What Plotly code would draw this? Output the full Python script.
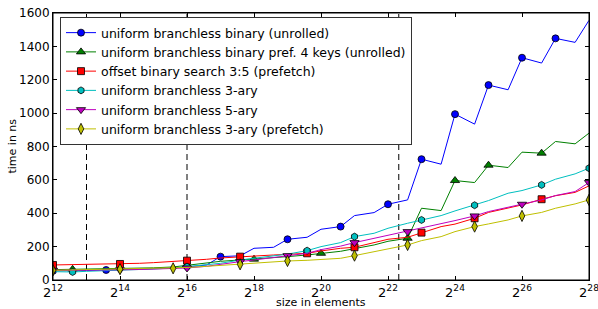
import math
import plotly.graph_objects as go

sizes = [4096, 6144, 8192, 12288, 16384, 24576, 32768, 49152, 65536, 98304,
         131072, 196608, 262144, 393216, 524288, 786432, 1048576, 1572864,
         2097152, 3145728, 4194304, 6291456, 8388608, 12582912, 16777216,
         25165824, 33554432, 50331648, 67108864, 100663296, 134217728,
         201326592, 268435456]

binary_unrolled = [55, 55, 57, 60, 62, 65, 68, 72, 78, 90, 140, 145, 190, 196, 244, 256,
                   304, 320, 386, 404, 454, 480, 724, 694, 994, 934, 1168, 1140, 1332,
                   1300, 1448, 1424, 1556]
binary_pref4 = [62, 64, 65, 66, 68, 70, 73, 78, 88, 100, 112, 120, 125, 133, 140, 150,
                160, 172, 188, 210, 232, 250, 430, 416, 596, 584, 688, 674, 766, 760,
                830, 816, 880]
offset_binary = [90, 92, 93, 95, 96, 100, 104, 110, 116, 124, 132, 140, 145, 150, 154, 160,
                 174, 190, 196, 224, 244, 256, 284, 320, 335, 370, 405, 430, 450, 484,
                 505, 525, 564]
ternary = [50, 48, 52, 55, 58, 62, 66, 72, 80, 88, 100, 120, 130, 145, 155, 176,
           200, 224, 260, 280, 310, 340, 360, 386, 414, 448, 476, 520, 536, 570,
           604, 636, 670]
quinary = [58, 58, 59, 60, 61, 63, 66, 68, 72, 82, 95, 110, 120, 135, 146, 160,
           182, 203, 224, 250, 266, 290, 310, 336, 356, 384, 410, 436, 454, 480,
           506, 530, 584]
ternary_pref = [58, 60, 62, 63, 65, 66, 68, 70, 75, 82, 88, 94, 100, 110, 114, 118,
                122, 130, 146, 170, 184, 210, 236, 260, 290, 320, 336, 360, 384, 405,
                430, 456, 480]

cache_limits = [8192, 65536, 5242880]

x_tick_exps = [12, 14, 16, 18, 20, 22, 24, 26, 28]
y_ticks = [0, 200, 400, 600, 800, 1000, 1200, 1400, 1600]

series = [
    ("uniform branchless binary (unrolled)", binary_unrolled, "#0000ff", "circle", 7,
     [0, 3, 10, 14, 17, 20, 22, 24, 26, 28, 30]),
    ("uniform branchless binary pref. 4 keys (unrolled)", binary_pref4, "#008000", "triangle-up", 8,
     [1, 8, 12, 16, 21, 24, 26, 29]),
    ("offset binary search 3:5 (prefetch)", offset_binary, "#ff0000", "square", 7,
     [0, 4, 8, 11, 15, 18, 22, 25, 29]),
    ("uniform branchless 3-ary", ternary, "#00bfbf", "hexagon", 7,
     [1, 8, 15, 18, 22, 25, 29, 32]),
    ("uniform branchless 5-ary", quinary, "#bf00bf", "triangle-down", 8,
     [0, 4, 8, 11, 14, 18, 21, 25, 28, 32]),
    ("uniform branchless 3-ary (prefetch)", ternary_pref, "#bfbf00", "diamond-tall", 8,
     [0, 4, 7, 11, 14, 18, 21, 25, 28, 32]),
]

fig = go.Figure()

for c in cache_limits:
    fig.add_trace(go.Scatter(x=[c, c], y=[0, 1600], mode="lines",
                             line=dict(color="black", width=1, dash="6px,4px"),
                             showlegend=False, hoverinfo="skip"))

for name, vals, color, sym, msz, marks in series:
    fig.add_trace(go.Scatter(
        x=sizes, y=vals, name=name, mode="lines+markers",
        line=dict(color=color, width=1),
        marker=dict(symbol=sym, size=msz, color=color, line=dict(color="black", width=0.8)),
        selectedpoints=marks,
        selected=dict(marker=dict(opacity=1)),
        unselected=dict(marker=dict(opacity=0)),
    ))

L, R, T, B = 53, 9, 13, 29
PW, PH = 598 - L - R, 309 - T - B

fig.update_layout(
    width=598, height=309,
    margin=dict(l=L, r=R, t=T, b=B, autoexpand=False),
    paper_bgcolor="white", plot_bgcolor="white",
    font=dict(family="DejaVu Sans", size=12, color="black"),
    showlegend=True,
    legend=dict(x=(60 - L) / PW, y=1 - (17 - T) / PH, xanchor="left", yanchor="top",
                bgcolor="white", bordercolor="#333", borderwidth=1,
                font=dict(size=12.5), tracegroupgap=0, itemwidth=30),
    shapes=[dict(type="rect", xref="paper", yref="paper", x0=0, x1=1, y0=0, y1=1,
                 line=dict(color="black", width=1), layer="above")],
    annotations=[
        dict(text="size in elements", x=0.5, y=(280 - 302) / PH, xref="paper", yref="paper",
             xanchor="center", yanchor="middle", showarrow=False, font=dict(size=11)),
        dict(text="time in ns", x=(12 - L) / PW, y=0.5, xref="paper", yref="paper",
             xanchor="center", yanchor="middle", showarrow=False, textangle=-90,
             font=dict(size=11)),
    ],
)
fig.update_xaxes(
    type="log", range=[math.log10(2 ** 12) - 1e-6, math.log10(2 ** 28) + 1e-6],
    tickvals=[2 ** e for e in x_tick_exps],
    ticktext=["2<sup>%d</sup>" % e for e in x_tick_exps],
    ticks="inside", ticklen=4, tickcolor="black",
    showline=True, linecolor="black", linewidth=1, mirror="ticks",
    showgrid=False, zeroline=False, automargin=False,
    ticklabeloverflow="allow",
    tickfont=dict(size=13),
)
fig.update_yaxes(
    range=[0, 1600], tickvals=y_ticks,
    ticks="inside", ticklen=4, tickcolor="black",
    showline=True, linecolor="black", linewidth=1, mirror="ticks",
    showgrid=False, zeroline=False, automargin=False,
    ticklabeloverflow="allow",
    tickfont=dict(size=12),
)

fig.write_html("out.html", config={"displayModeBar": False},
               post_script="document.body.style.margin='0';document.body.style.padding='0';")
